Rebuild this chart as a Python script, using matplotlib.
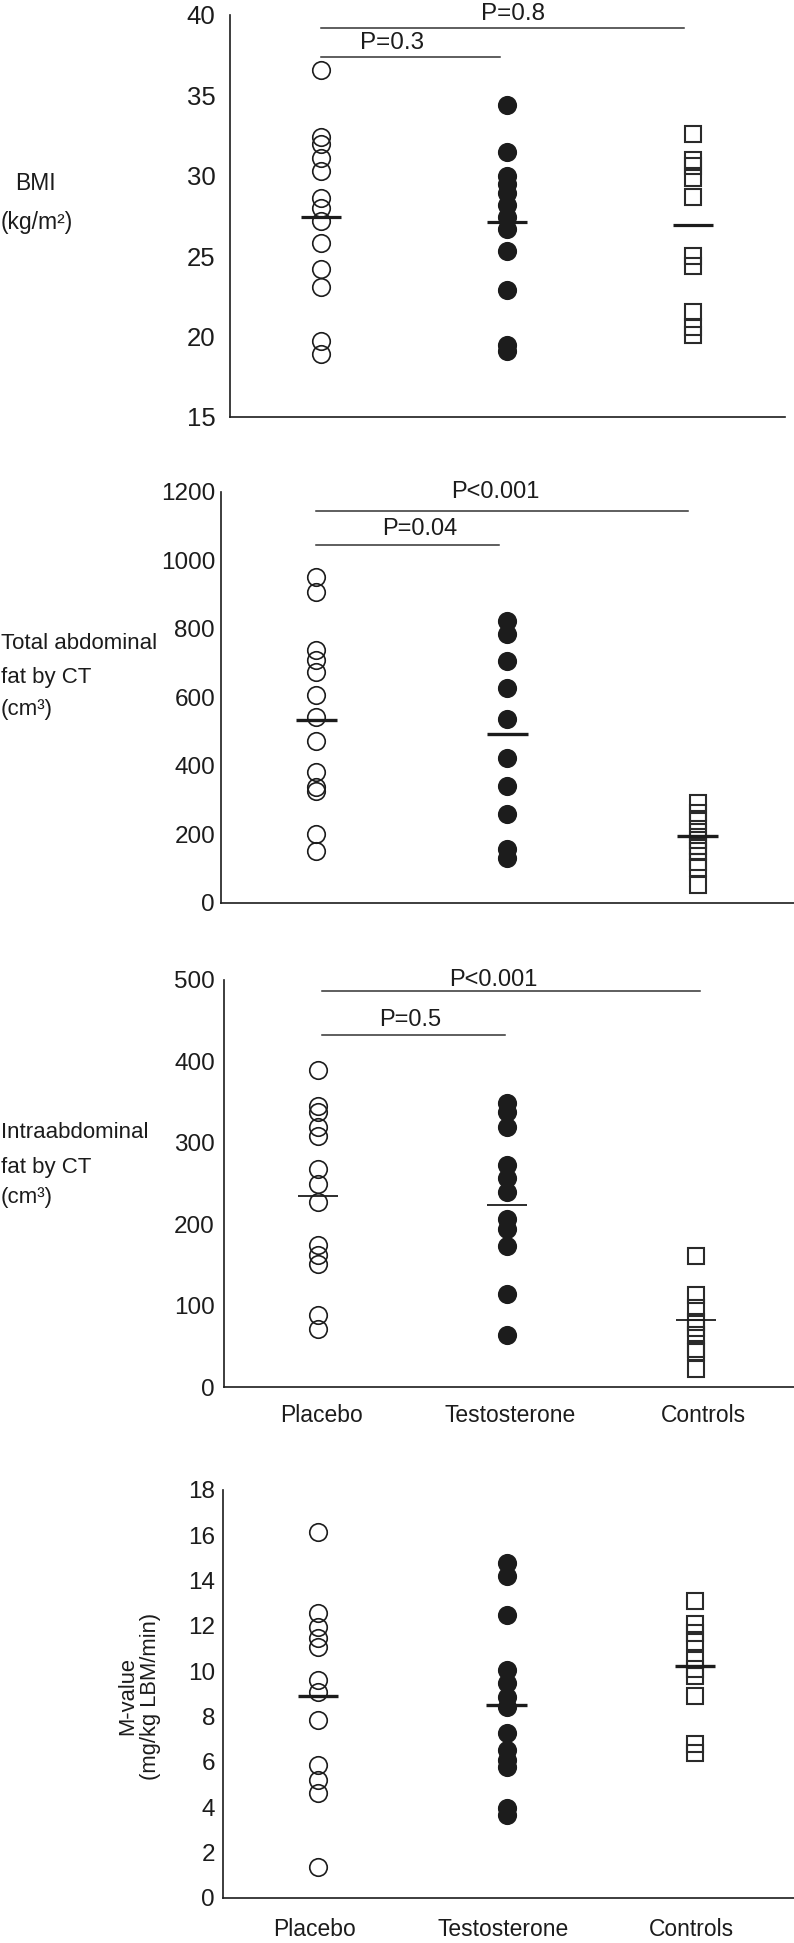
import numpy as np
import matplotlib
matplotlib.use("Agg")
import matplotlib.pyplot as plt
from matplotlib.transforms import blended_transform_factory

plt.rcParams['font.family'] = ['Liberation Sans', 'DejaVu Sans']

groups = ["Placebo", "Testosterone", "Controls"]

# BMI (kg/m2)
bmi_placebo = [36.6, 32.4, 32.0, 31.1, 30.3, 28.6, 28.0, 27.2, 25.8, 24.2, 23.1, 19.7, 18.9]
bmi_testo = [34.4, 31.5, 30.0, 29.5, 28.9, 28.2, 27.45, 26.7, 25.3, 22.9, 19.5, 19.1]
bmi_controls = [32.6, 31.0, 30.6, 29.85, 28.7, 25.0, 24.4, 21.5, 20.6, 20.1]
bmi_means = [27.45, 27.14, 26.93]

# total abdominal fat by CT (cm3)
taf_placebo = [952, 906, 738, 710, 674, 606, 541, 473, 382, 339, 326, 200, 152]
taf_testo = [823, 784, 707, 626, 535, 423, 342, 259, 157, 131]
taf_controls = [292, 262, 240, 205, 182, 165, 150, 118, 102, 52]
taf_means = [533, 492, 195]

# intraabdominal fat by CT (cm3)
iaf_placebo = [390, 345, 338, 320, 308, 268, 250, 227, 175, 162, 151, 89, 72]
iaf_testo = [349, 338, 320, 273, 257, 240, 206, 194, 173, 114, 64]
iaf_controls = [161, 113, 97, 80, 73, 64, 47, 43, 23]
iaf_means = [235, 224, 83]

# M-value (mg/kg LBM/min)
mv_placebo = [16.16, 12.58, 11.97, 11.45, 11.08, 9.61, 9.10, 7.85, 5.86, 5.20, 4.64, 1.34]
mv_testo = [14.76, 14.2, 12.48, 10.05, 9.46, 8.88, 8.43, 7.26, 6.52, 6.08, 5.78, 3.94, 3.65]
mv_controls = [13.1, 12.1, 11.7, 11.3, 10.5, 10.1, 9.8, 8.9, 6.8, 6.4]
mv_means = [8.9, 8.5, 10.23]

W, H = 794, 1943
fig = plt.figure(figsize=(W / 100, H / 100), dpi=100)
INK = "#1c1c1c"


def px_axes(l, t, r, b):
    return fig.add_axes([l / W, 1 - b / H, (r - l) / W, (b - t) / H])


def fy(y):
    return 1 - y / H


def panel(box, xlim, ylim, yticks, pad, tsize, data, means, mean_lw):
    ax = px_axes(*box)
    ax.set_xlim(*xlim)
    ax.set_ylim(*ylim)
    for s in ["top", "right"]:
        ax.spines[s].set_visible(False)
    for s in ["left", "bottom"]:
        ax.spines[s].set_linewidth(1.2)
        ax.spines[s].set_color(INK)
    ax.set_yticks(yticks)
    ax.tick_params(axis="y", length=0, pad=pad, labelsize=tsize, colors=INK)
    ax.set_xticks([])
    ms = 12.6
    ax.plot([0] * len(data[0]), data[0], "o", ms=ms, mfc="none", mec=INK, mew=1.2, clip_on=False)
    ax.plot([1] * len(data[1]), data[1], "o", ms=ms, mfc=INK, mec=INK, mew=1.2, clip_on=False)
    ax.plot([2] * len(data[2]), data[2], "s", ms=12, mfc="none", mec="#2a2a2a", mew=1.5, clip_on=False)
    for i, m in enumerate(means):
        ax.plot([i - 0.107, i + 0.107], [m, m], color=INK, lw=mean_lw, solid_capstyle="butt")
    return ax


def bracket(ax, x0, x1, y, label, tx, ty, size=17):
    ax.plot([x0, x1], [y, y], color="#333333", lw=1.1, clip_on=False)
    ax.text(tx, ty, label, ha="center", va="center", fontsize=size, color=INK, clip_on=False)


# panel 1 - BMI
ax1 = panel((230, 15, 785, 417), (-0.489, 2.495), (15, 40), [15, 20, 25, 30, 35, 40], 10.5, 18.5,
            [bmi_placebo, bmi_testo, bmi_controls], bmi_means, 2.3)
bracket(ax1, 0, 1.95, 39.17, "P=0.8", 1.03, 40.06, 17.5)
bracket(ax1, 0, 0.96, 37.37, "P=0.3", 0.384, 38.24, 17.5)
fig.text(35 / W, fy(183), "BMI", ha="center", va="center", fontsize=16.5, color=INK)
fig.text(37 / W, fy(223), "(kg/m²)", ha="center", va="center", fontsize=16.5, color=INK)

# panel 2 - total abdominal fat
ax2 = panel((221, 491.7, 794, 902.7), (-0.50, 2.504), (0, 1200), range(0, 1201, 200), 4.3, 17.5,
            [taf_placebo, taf_testo, taf_controls], taf_means, 2.4)
bracket(ax2, 0, 1.95, 1145, "P<0.001", 0.94, 1200)
bracket(ax2, 0, 0.956, 1044, "P=0.04", 0.54, 1090)
for txt, y in [("Total abdominal", 643), ("fat by CT", 678), ("(cm³)", 710)]:
    fig.text(1 / W, fy(y), txt, ha="left", va="center", fontsize=16, color=INK)

# panel 3 - intraabdominal fat
ax3 = panel((224, 980, 794, 1387.3), (-0.497, 2.519), (0, 500), range(0, 501, 100), 6.5, 17.5,
            [iaf_placebo, iaf_testo, iaf_controls], iaf_means, 1.3)
bracket(ax3, 0.02, 2.02, 487, "P<0.001", 0.93, 500)
bracket(ax3, 0.02, 0.99, 433, "P=0.5", 0.49, 451)
for txt, y in [("Intraabdominal", 1132.7), ("fat by CT", 1167), ("(cm³)", 1198)]:
    fig.text(1 / W, fy(y), txt, ha="left", va="center", fontsize=16, color=INK)
tr3 = blended_transform_factory(ax3.transData, fig.transFigure)
for i, g in enumerate(groups):
    ax3.text(i + [0.02, 0.015, 0.04][i], fy(1415), g, transform=tr3, ha="center", va="center",
             fontsize=16.5, color=INK)

# panel 4 - M-value
ax4 = panel((223, 1490, 794, 1897.7), (-0.504, 2.525), (0, 18), range(0, 19, 2), 5.8, 17.5,
            [mv_placebo, mv_testo, mv_controls], mv_means, 2.4)
fig.text(139 / W, fy(1696), "M-value\n(mg/kg LBM/min)", rotation=90, ha="center", va="center",
         multialignment="center", fontsize=15.8, color=INK, linespacing=1.15)
tr4 = blended_transform_factory(ax4.transData, fig.transFigure)
for i, g in enumerate(groups):
    ax4.text(i - 0.02, fy(1930), g, transform=tr4, ha="center", va="center",
             fontsize=16.5, color=INK)

fig.savefig("out.png", dpi=100)
